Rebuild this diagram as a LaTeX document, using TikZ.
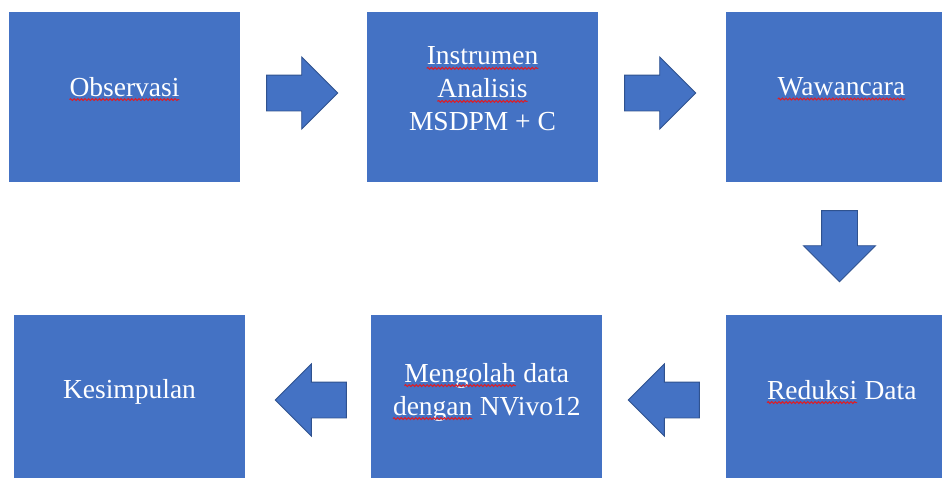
\documentclass[tikz,border=0pt]{standalone}
\usepackage{fontspec}
\setmainfont{Liberation Serif}
\usetikzlibrary{positioning,shapes.arrows,decorations.pathmorphing}

\definecolor{boxblue}{HTML}{4472C4}
\definecolor{edgeblue}{HTML}{2F528F}
\definecolor{squigred}{HTML}{D8202A}

% red wavy underline under some words
\newcommand{\squig}[1]{\tikz[baseline=(w.base)]{%
    \node[inner sep=0pt, outer sep=0pt] (w) at (0,0) {#1};
    \draw[squigred, line width=1.1pt, decorate, decoration={snake, amplitude=0.9pt, segment length=3.6pt}]
        ([yshift=-3.5pt]w.base west) -- ([yshift=-3.5pt]w.base east);}}

\begin{document}
\begin{tikzpicture}[x=1pt, y=-1pt,
    box/.style={fill=boxblue, minimum width=231pt, minimum height=170pt, inner sep=0pt},
    txt/.style={text=white, font=\fontsize{27.5}{33}\selectfont, align=center, yshift=8pt},
    blockarrow/.style={single arrow, fill=boxblue, draw=edgeblue, line width=0.9pt,
        inner sep=17.5pt, minimum height=71pt, single arrow head extend=18pt}]

\useasboundingbox (0,0) rectangle (942,477);
\clip (0,0) rectangle (942,477);

% Top row
\node[box, label={[txt]center:{\squig{Observasi}}}] (obs) at (124.5,97) {};
\node[box, label={[txt]center:{\squig{Instrumen}\\\squig{Analisis}\\MSDPM + C}}] (ins) at (482.5,97) {};
\node[box, label={[txt]center:{\squig{Wawancara}}}] (wwc) at (841.5,97) {};

% Bottom row
\node[box, label={[txt]center:{Kesimpulan}}] (kes) at (129.5,400) {};
\node[box, label={[txt]center:{\squig{Mengolah} data\\\squig{dengan} NVivo12}}] (ngl) at (486.5,400) {};
\node[box, label={[txt]center:{\squig{Reduksi} Data}}] (red) at (841.5,400) {};

% Block arrows between the steps
\node[blockarrow, right=26pt of obs, yshift=4pt] (a1) {};
\node[blockarrow, right=26pt of ins, yshift=4pt] (a2) {};
\node[blockarrow, shape border rotate=270, below=28pt of wwc, xshift=-2pt] (a3) {};
\node[blockarrow, shape border rotate=180, left=26pt of red] (a4) {};
\node[blockarrow, shape border rotate=180, left=24pt of ngl] (a5) {};

\end{tikzpicture}
\end{document}
